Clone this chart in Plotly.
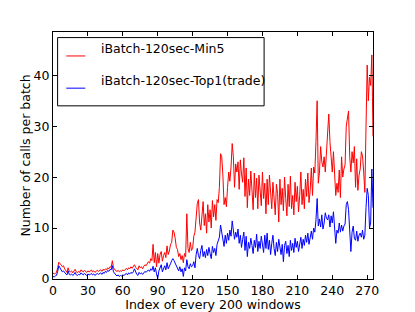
import plotly.graph_objects as go

idx = list(range(276))

min5 = [
    1.2, 1.0, 1.1, 1.3, 2.2, 3.3, 3.0, 2.8, 2.4, 2.6,
    2.0, 1.6, 1.3, 2.2, 1.5, 1.4, 1.6, 1.2, 1.5, 1.9,
    1.4, 1.2, 1.5, 1.3, 1.8, 1.6, 1.4, 1.7, 1.5, 1.3,
    1.6, 1.4, 1.5, 1.8, 1.4, 1.6, 1.3, 1.5, 1.7, 1.5,
    1.6, 1.8, 1.5, 1.9, 1.7, 2.0, 1.8, 2.2, 2.0, 2.4,
    2.3, 3.6, 2.2, 1.8, 1.6, 1.5, 1.7, 1.4, 1.6, 1.5,
    1.8, 1.6, 1.9, 2.1, 1.8, 2.2, 2.0, 2.4, 2.1, 2.5,
    2.8, 2.3, 2.0, 1.8, 2.6, 2.2, 2.4, 2.0, 2.5, 2.8,
    2.6, 3.0, 3.4, 3.1, 4.0, 3.6, 6.8, 3.2, 5.2, 2.4,
    5.0, 3.1, 4.8, 5.4, 3.5, 4.6, 5.2, 4.2, 6.5, 4.8,
    5.5, 6.8, 7.2, 9.6, 9.2, 8.0, 6.2, 5.8, 4.4, 5.0,
    3.8, 4.6, 3.2, 5.0, 4.4, 12.8, 6.0, 5.2, 7.2, 5.6,
    6.0, 8.4, 9.2, 12.0, 14.8, 15.6, 11.0, 9.6, 13.0, 15.2,
    10.5, 12.8, 9.0, 14.6, 11.2, 13.6, 10.0, 15.4, 12.2, 14.6,
    11.5, 15.6, 15.0, 18.0, 24.6, 24.0, 20.4, 14.6, 16.0, 14.2,
    18.0, 21.0, 19.2, 22.0, 26.6, 24.0, 18.0, 22.6, 21.0, 23.0,
    17.6, 23.4, 20.6, 19.0, 23.8, 16.2, 21.8, 14.0, 19.6, 16.4,
    21.2, 18.0, 13.6, 20.8, 16.0, 19.8, 13.8, 20.4, 17.0, 14.4,
    21.0, 15.8, 18.8, 12.8, 19.6, 14.6, 20.4, 17.2, 13.8, 19.0,
    15.2, 12.6, 18.6, 16.8, 11.2, 19.6, 14.6, 17.8, 13.4, 20.0,
    15.8, 12.4, 18.6, 14.2, 20.2, 13.8, 16.4, 12.6, 19.0, 15.2,
    18.2, 13.2, 16.4, 21.0, 14.6, 17.6, 13.8, 19.6, 16.2, 20.8,
    15.0, 17.4, 21.8, 16.4, 22.0, 20.8, 27.0, 35.0, 18.8, 21.0,
    26.0, 23.0, 22.0, 24.0, 21.0, 24.8, 31.0, 32.4, 27.0, 23.6,
    21.0, 25.0, 19.6, 16.4, 18.8, 17.0, 21.4, 16.0, 24.0, 20.0,
    21.6, 22.4, 30.0, 31.6, 33.0, 24.0, 21.0, 25.0, 22.8, 26.0,
    18.0, 23.6, 17.4, 20.4, 21.6, 25.0, 24.2, 21.0, 17.0, 30.0,
    42.0, 35.0, 39.6, 38.0, 44.0, 28.0,
]

top1 = [
    0.5, 0.4, 0.6, 0.7, 1.5, 2.6, 2.2, 1.8, 1.4, 1.6,
    1.2, 1.0, 0.8, 1.6, 0.9, 0.8, 1.0, 0.7, 0.9, 1.3,
    0.8, 0.7, 0.9, 0.8, 1.2, 1.0, 0.8, 1.1, 0.9, 0.7,
    1.0, 0.8, 0.9, 1.1, 0.8, 1.0, 0.7, 0.9, 1.1, 0.9,
    1.0, 1.2, 0.9, 1.3, 1.1, 1.5, 1.3, 1.7, 1.5, 1.9,
    1.8, 2.6, 1.4, 1.0, 0.8, 0.6, 0.8, 0.5, 0.7, 0.6,
    0.8, 0.7, 0.9, 1.1, 0.8, 1.2, 1.0, 1.3, 1.1, 1.4,
    2.0, 1.3, 0.9, 0.7, 1.3, 1.0, 1.2, 0.9, 1.3, 1.5,
    1.3, 1.6, 1.8, 1.5, 2.0, 1.7, 2.5, 1.4, 2.2, 1.0,
    0.1, 1.6, 2.4, 2.8, 1.4, 2.0, 2.6, 1.8, 3.2, 2.0,
    2.4, 3.0, 3.6, 4.0, 3.6, 3.0, 2.4, 2.2, 1.6, 2.4,
    1.4, 2.0, 0.5, 2.2, 1.6, 3.8, 2.4, 2.0, 3.0, 2.4,
    2.6, 3.4, 2.2, 4.8, 6.0, 4.6, 4.0, 5.6, 6.6, 4.4,
    5.4, 4.2, 5.8, 4.6, 6.2, 5.0, 4.0, 6.4, 5.2, 6.0,
    4.6, 6.8, 7.4, 8.2, 10.6, 9.4, 8.0, 6.4, 8.6, 7.0,
    9.0, 7.6, 9.6, 8.4, 11.4, 9.8, 7.8, 9.2, 8.2, 9.8,
    7.0, 8.6, 6.2, 7.8, 9.2, 5.6, 8.4, 4.4, 7.2, 6.0,
    8.0, 6.6, 5.0, 7.6, 6.2, 8.8, 5.4, 7.4, 6.0, 8.4,
    6.8, 5.2, 8.6, 6.0, 9.0, 5.8, 7.6, 4.8, 7.0, 8.6,
    6.0, 4.6, 7.2, 5.4, 7.8, 6.2, 4.8, 6.8, 3.4, 6.6,
    7.4, 5.0, 6.6, 4.4, 7.6, 5.6, 7.0, 5.2, 8.0, 6.2,
    7.4, 5.4, 6.6, 8.2, 6.0, 7.8, 6.6, 8.6, 7.2, 9.0,
    6.8, 8.2, 9.4, 7.8, 10.0, 9.2, 11.6, 15.8, 10.4, 11.8,
    10.2, 12.6, 9.8, 11.0, 13.0, 12.0, 11.6, 12.6, 10.2, 12.4,
    11.0, 13.2, 9.4, 7.0, 9.6, 9.0, 11.0, 9.2, 10.6, 9.4,
    10.4, 10.8, 14.6, 15.2, 13.6, 10.0, 5.4, 9.2, 10.4, 8.0,
    7.6, 9.4, 7.4, 8.6, 9.0, 8.2, 9.6, 7.8, 8.6, 14.0,
    17.8, 16.4, 10.0, 11.0, 21.6, 14.0,
]

series_names = ["iBatch-120sec-Min5", "iBatch-120sec-Top1(trade)"]
series_colors = ["#ff0000", "#0000ff"]
x_ticks = [0, 30, 60, 90, 120, 150, 180, 210, 240, 270]
y_ticks = [0, 10, 20, 30, 40]

FONT = "DejaVu Sans"
FS = 12.5

fig = go.Figure()
for name, ys, col in zip(series_names, [min5, top1], series_colors):
    fig.add_trace(go.Scatter(x=idx, y=ys, mode="lines", name=name,
                             line=dict(color=col, width=1), showlegend=False))

# matplotlib-like legend drawn manually
legend_box = dict(x0=0.0144, x1=0.6597, y0=0.7011, y1=0.9774)
fig.add_shape(type="rect", xref="paper", yref="paper", **legend_box,
              line=dict(color="black", width=1), fillcolor="white", layer="above")
sample_y = [0.903, 0.7726]
text_y = [0.9342, 0.8049]
for name, col, sy, ty in zip(series_names, series_colors, sample_y, text_y):
    fig.add_shape(type="line", xref="paper", yref="paper", x0=0.0415, x1=0.1008,
                  y0=sy, y1=sy, line=dict(color=col, width=1), layer="above")
    fig.add_annotation(xref="paper", yref="paper", x=0.1424, y=ty, text=name,
                       showarrow=False, xanchor="left", yanchor="middle",
                       font=dict(family=FONT, size=FS, color="black"))

axis_common = dict(showline=True, linecolor="black", linewidth=1, mirror="ticks",
                   ticks="inside", ticklen=4, tickcolor="black", tickwidth=1,
                   showgrid=False, zeroline=False, automargin=False,
                   tickfont=dict(family=FONT, size=FS, color="black"))

fig.update_layout(
    width=415, height=312,
    margin=dict(l=53, r=42, t=32, b=33),
    paper_bgcolor="white", plot_bgcolor="white",
    font=dict(family=FONT, size=FS, color="black"),
    xaxis=dict(range=[0, 275], tickvals=x_ticks,
               title=dict(text="Index of every 200 windows", standoff=4,
                          font=dict(family=FONT, size=FS)),
               **axis_common),
    yaxis=dict(range=[0, 48.5], tickvals=y_ticks,
               title=dict(text="Number of calls per batch", standoff=0,
                          font=dict(family=FONT, size=FS)),
               **axis_common),
)

fig.write_html("out.html",
               config={"displayModeBar": False},
               post_script="document.body.style.margin='0';document.body.style.overflow='hidden';")
